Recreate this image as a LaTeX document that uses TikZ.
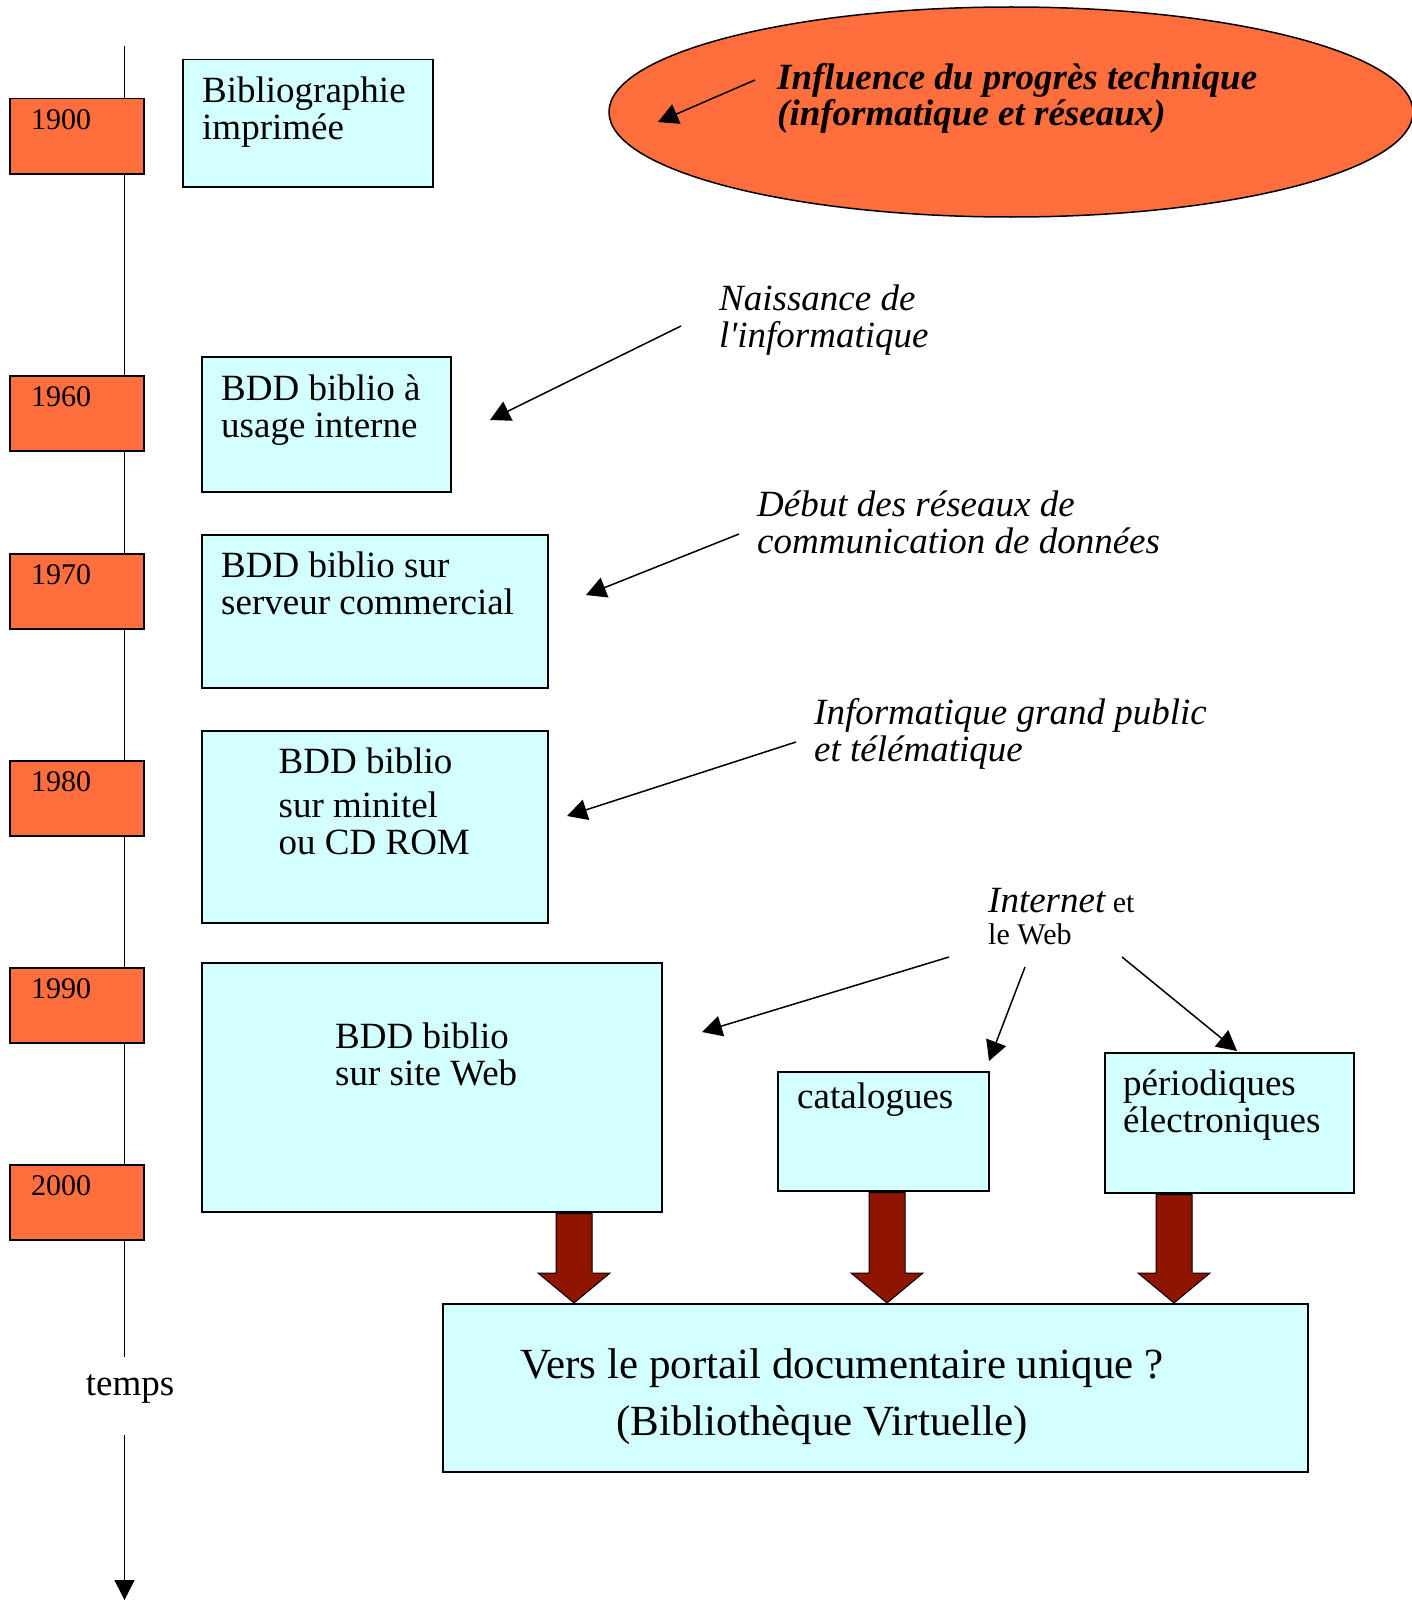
\documentclass[tikz,border=0pt]{standalone}
\usepackage{fontspec}
\setmainfont{Liberation Serif}
\usetikzlibrary{calc,arrows.meta,shapes.geometric}
\definecolor{yearorange}{RGB}{255,110,61}
\definecolor{boxcyan}{RGB}{212,255,255}
\definecolor{arrowred}{RGB}{144,21,0}
\newcommand{\fs}[2]{\fontsize{#1}{#2}\selectfont}
\newcommand{\blockarrow}[3]{\draw[blockarrow] let \p1=(#2.south), \p2=(#3.north) in (#1pt-18pt,\y1-1pt) -- (#1pt-18pt,\y2+30pt) -- (#1pt-36pt,\y2+30pt) -- (#1pt,\y2) -- (#1pt+36pt,\y2+30pt) -- (#1pt+18pt,\y2+30pt) -- (#1pt+18pt,\y1-1pt) -- cycle;}

\begin{document}
\begin{tikzpicture}[x=1pt,y=-1pt,
	yearbox/.style={draw=black,line width=1.5pt,fill=yearorange,minimum width=134pt,minimum height=75pt,anchor=north west,inner sep=0pt},
	yeartext/.style={anchor=west,inner sep=0pt,font=\fs{30}{30}},
	stagebox/.style={draw=black,line width=1.5pt,fill=boxcyan,anchor=north west,inner sep=0pt},
	stagetext/.style={anchor=north west,inner sep=0pt,align=left,font=\fs{37}{37}},
	note/.style={anchor=north west,inner sep=0pt,align=left,font=\fs{37}{37}\itshape},
	thinarrow/.style={line width=1.5pt,-{Triangle[length=20pt,width=21pt]}},
	blockarrow/.style={draw=black,line width=1pt,fill=arrowred,line join=miter}]
	%%%%% START %%%%%
	\useasboundingbox (0,0) rectangle (1411,1600);
	
	% time axis
	\coordinate (tltop) at (124.5,46);
	\coordinate (gaptop) at (124.5,1357);
	\coordinate (gapbot) at (124.5,1435);
	\coordinate (tlend) at (124.5,1600);
	\draw[line width=1.5pt] (tltop) -- (gaptop);
	\draw[line width=1.5pt,-{Triangle[length=20pt,width=20pt]}] (gapbot) -- (tlend);
	\node[font=\fs{37}{37}] (temps) at (130,1389) {temps};
	
	\node[yearbox] (y1900) at (9,98) {};
	\node[yeartext] (t1900) at ($(y1900.north west)+(22,22)$) {1900};
	\node[yearbox] (y1960) at (9,375) {};
	\node[yeartext] (t1960) at ($(y1960.north west)+(22,22)$) {1960};
	\node[yearbox] (y1970) at (9,553) {};
	\node[yeartext] (t1970) at ($(y1970.north west)+(22,22)$) {1970};
	\node[yearbox] (y1980) at (9,760) {};
	\node[yeartext] (t1980) at ($(y1980.north west)+(22,22)$) {1980};
	\node[yearbox] (y1990) at (9,967) {};
	\node[yeartext] (t1990) at ($(y1990.north west)+(22,22)$) {1990};
	\node[yearbox] (y2000) at (9,1164) {};
	\node[yeartext] (t2000) at ($(y2000.north west)+(22,22)$) {2000};
	
	% influence
	\node[ellipse,draw=black,line width=1.5pt,fill=yearorange,minimum width=804pt,minimum height=210pt] (influence) at (1011,112) {};
	\node[note,font=\fs{37}{36}\bfseries\itshape] (influtext) at (777,63) {Influence du progrès technique\\(informatique et réseaux)};
	\coordinate (infl-from) at (755,80);
	\coordinate (infl-to) at (658,122);
	\draw[thinarrow] (infl-from) -- (infl-to);
	
	% stages
	\node[stagebox,minimum width=250pt,minimum height=127pt] (biblio) at (182,59) {};
	\node[stagetext] (bibliotext) at ($(biblio.north west)+(20,17.5)$) {Bibliographie\\imprimée};
	
	\node[stagebox,minimum width=249pt,minimum height=135pt] (interne) at (201,356) {};
	\node[stagetext] (internetext) at ($(interne.north west)+(20,19)$) {BDD biblio à\\usage interne};
	
	\node[stagebox,minimum width=346pt,minimum height=153pt] (serveur) at (201,534) {};
	\node[stagetext] (serveurtext) at ($(serveur.north west)+(20,18)$) {BDD biblio sur\\serveur commercial};
	
	\node[stagebox,minimum width=346pt,minimum height=192pt] (minitel) at (201,730) {};
	\node[stagetext] (miniteltext) at ($(minitel.north west)+(77.5,18)$) {BDD biblio\\[7pt]sur minitel\\ou CD ROM};
	
	\node[stagebox,minimum width=460pt,minimum height=249pt] (web) at (201,962) {};
	\node[stagetext] (webtext) at ($(web.north west)+(134,61)$) {BDD biblio\\sur site Web};
	
	\node[stagebox,minimum width=211pt,minimum height=119pt] (catal) at (777,1071) {};
	\node[stagetext] (cataltext) at ($(catal.north west)+(20,12)$) {catalogues};
	
	\node[stagebox,minimum width=249pt,minimum height=140pt] (period) at (1104,1052) {};
	\node[stagetext] (periodtext) at ($(period.north west)+(19,18)$) {périodiques\\électroniques};
	
	\node[stagebox,minimum width=865pt,minimum height=168pt] (portail) at (442,1303) {};
	\node[stagetext,font=\fs{43}{57}] (portailtext) at ($(portail.north west)+(78,45)$) {Vers le portail documentaire unique ?\\\hspace*{96pt}(Bibliothèque Virtuelle)};
	
	% events
	\node[note] (naiss) at (719,285) {Naissance de\\l\textquotesingle informatique};
	\coordinate (naiss-from) at (681,326);
	\coordinate (naiss-to) at (490,420);
	\draw[thinarrow] (naiss-from) -- (naiss-to);
	
	\node[note] (reseaux) at (757,491) {Début des réseaux de\\communication de données};
	\coordinate (reseaux-from) at (739,534);
	\coordinate (reseaux-to) at (586,595);
	\draw[thinarrow] (reseaux-from) -- (reseaux-to);
	
	\node[note] (public) at (814,698) {Informatique grand public\\et télématique};
	\coordinate (public-from) at (796,742);
	\coordinate (public-to) at (567,816);
	\draw[thinarrow] (public-from) -- (public-to);
	
	\node[note,font=\fs{30}{32}] (internet) at (988,888) {{\fs{37}{32}\itshape Internet} et\\le Web};
	\coordinate (inet-from1) at (949,957);
	\coordinate (inet-to1) at (702,1032);
	\coordinate (inet-from2) at (1025,967);
	\coordinate (inet-to2) at (989,1061);
	\coordinate (inet-from3) at (1122,957);
	\coordinate (inet-to3) at (1237,1051);
	\draw[thinarrow] (inet-from1) -- (inet-to1);
	\draw[thinarrow] (inet-from2) -- (inet-to2);
	\draw[thinarrow] (inet-from3) -- (inet-to3);
	
	\blockarrow{574}{web}{portail}
	\blockarrow{887}{catal}{portail}
	\blockarrow{1174}{period}{portail}
	%%%%% END %%%%%
\end{tikzpicture}
\end{document}
